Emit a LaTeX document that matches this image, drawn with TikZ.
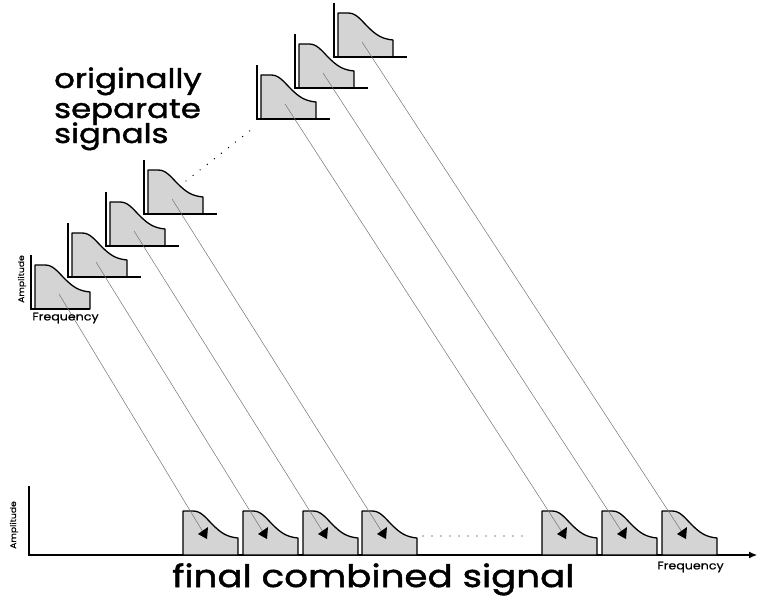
\documentclass[tikz,border=0pt]{standalone}
\usepackage{fontspec}
\setmainfont{Poppins}
\newfontfamily\gothic{Poppins}[FakeStretch=1.2, FakeBold=1.6]
\newfontfamily\gothicsm{Poppins}[FakeStretch=1.15, FakeBold=0.5]
\usetikzlibrary{arrows.meta,calc}
\tikzset{
  sig/.style={draw=black, line width=1.3pt, fill=black!17, line join=round},
  ax/.style={draw=black, line width=1.1pt},
  conn/.style={draw=black!55, line width=0.5pt},
  tri/.style={fill=black},
  dotline/.style={draw=black, line width=1.4pt, line cap=round, dash pattern=on 0pt off 9pt},
  bigtxt/.style={font=\gothic\fontsize{27}{27}\selectfont, anchor=base west, inner sep=0pt},
  hugetxt/.style={font=\gothic\fontsize{31}{31}\selectfont, anchor=base west, inner sep=0pt},
  freqtxt/.style={font=\gothicsm\fontsize{11}{11}\selectfont, inner sep=0pt},
  amptxt/.style={font=\gothicsm\fontsize{8}{8}\selectfont, inner sep=0pt, rotate=90},
}
% signal shape: #1 = left x, #2 = bottom y (pixel coordinates, y downwards)
\newcommand\sigshape[2]{%
  \begin{scope}[shift={(#1,#2)}]
    \path[sig] (0,0) -- (0,-44) -- (10,-44) .. controls (18,-44) and (22,-38) .. (30,-30)
      .. controls (38,-22) and (44,-18) .. (55,-17) -- (55,0) -- cycle;
  \end{scope}}
% upper graph: #1 axis x, #2 baseline y, #3 baseline length, #4 index
\newcommand\upgraph[4]{%
  \sigshape{#1+4}{#2}
  \draw[ax] (#1,#2-54) -- (#1,#2) -- (#1+#3,#2);
  \coordinate (s#4) at (#1+28,#2-15);}
% lower signal: #1 left x, #2 index
\newcommand\lowsig[2]{%
  \sigshape{#1}{555}
  \coordinate (e#2) at (#1+20,532);
  \coordinate (t#2) at (#1,555);}
\newcommand\lowtri[1]{%
  \fill[tri] ($(t#1)+(15,-21)$) -- ($(t#1)+(25,-28)$) -- ($(t#1)+(24,-16)$) -- cycle;}
\begin{document}
\begin{tikzpicture}[x=1pt,y=-1pt]
  \useasboundingbox (0,0) rectangle (757,599);
  % upper graphs
  \upgraph{31}{309}{59}{1}
  \upgraph{68}{277}{73}{2}
  \upgraph{106}{246}{73}{3}
  \upgraph{144}{214}{73}{4}
  \upgraph{257}{119}{73}{5}
  \upgraph{295}{88}{73}{6}
  \upgraph{334}{57}{73}{7}
  \draw[dotline] (186,181) -- (256,126);
  % bottom axes
  \draw[ax, -{Latex[length=8pt,width=7pt]}] (29,486) -- (29,555) -- (757,555);
  % lower signals
  \lowsig{183}{1}
  \lowsig{243}{2}
  \lowsig{303}{3}
  \lowsig{362}{4}
  \lowsig{542}{5}
  \lowsig{602}{6}
  \lowsig{662}{7}
  \draw[dotline] (423,536) -- (525,536);
  % connectors
  \foreach \i in {1,...,7} {\draw[conn] (s\i) -- (e\i);}
  \foreach \i in {1,...,7} {\lowtri{\i}}
  % labels
  \node[bigtxt] (l1) at (54,88) {originally};
  \node[bigtxt] (l2) at (54,118) {separate};
  \node[bigtxt] (l3) at (54,143) {signals};
  \node[hugetxt] (l4) at (172,587) {final combined signal};
  \node[freqtxt] (f1) at (65.5,318) {Frequency};
  \node[freqtxt] (f2) at (690.5,567) {Frequency};
  \node[amptxt] (a1) at (22,279) {Amplitude};
  \node[amptxt] (a2) at (14,525) {Amplitude};
\end{tikzpicture}
\end{document}
